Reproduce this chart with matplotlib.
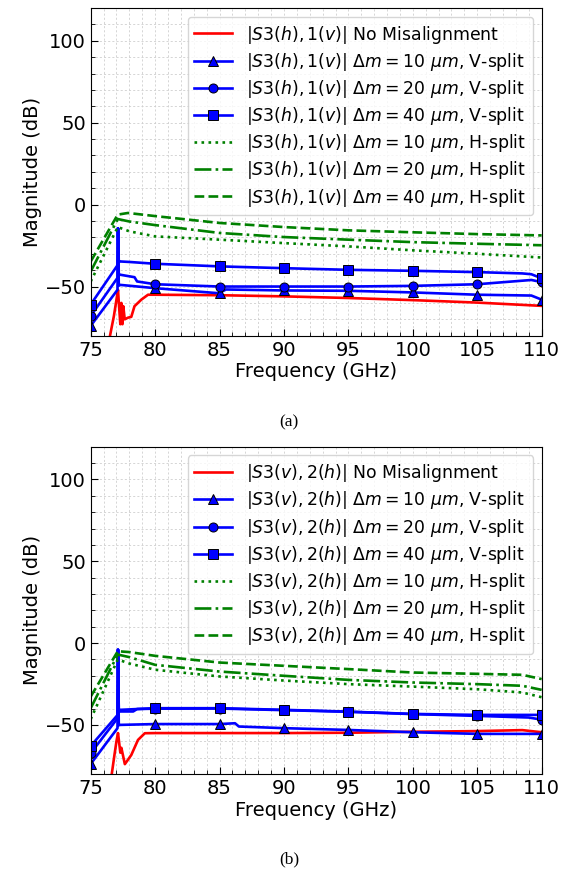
import numpy as np
import matplotlib
matplotlib.use("Agg")
import matplotlib.pyplot as plt
from matplotlib.ticker import MultipleLocator

# ---------------- data: panel (a) |S3(h),1(v)| ----------------
red_a_f = [76.45, 76.8, 77.0, 77.12, 77.2, 77.3, 77.38, 77.46, 77.53, 77.64, 77.9, 78.15, 78.4, 78.93, 79.45, 80, 85, 90, 95, 100, 105, 110]
red_a_v = [-82, -68, -58, -52, -62, -73, -60, -73, -62, -70, -69, -68.5, -62, -58, -55, -55, -55.3, -56, -57, -58.3, -59.8, -61.8]

v10_a_f = [75, 77.08, 77.12, 77.18, 77.3, 80, 84.8, 85, 85.5, 90, 95, 100, 105, 109.2, 110]
v10_a_v = [-74, -52, -14.5, -49.5, -49, -51, -54, -53.8, -51.8, -52.4, -52.6, -53.6, -55, -55.5, -58]
v20_a_f = [75, 77.08, 77.12, 77.18, 77.3, 78.4, 78.6, 80, 85, 90, 95, 100, 105, 109.2, 110]
v20_a_v = [-68, -44.7, -14.5, -43, -42.8, -44.3, -46.9, -48.6, -50, -50, -50, -49.6, -48.6, -46, -47.3]
v40_a_f = [75, 77.08, 77.12, 77.18, 77.3, 78, 80, 85, 90, 95, 100, 105, 108.5, 109.2, 110]
v40_a_v = [-61, -37, -14.5, -35, -34.7, -35, -36.1, -37.7, -38.8, -39.8, -40.4, -41.2, -42, -42.5, -45]

h10_a_f = [75, 77.1, 78, 80, 85, 90, 95, 100, 105, 110]
h10_a_v = [-46.9, -13.7, -16.3, -19.4, -21.4, -23.5, -25.5, -27.9, -30, -32.3]
h20_a_f = [75, 77.1, 78, 80, 85, 90, 95, 100, 105, 110]
h20_a_v = [-40.8, -8.8, -10.3, -12.5, -17.3, -19.8, -21.4, -22.9, -23.9, -24.8]
h40_a_f = [75, 77.1, 77.9, 80, 85, 90, 95, 100, 105, 110]
h40_a_v = [-34.7, -6.1, -5.1, -7, -11.2, -13.7, -15.7, -16.9, -18, -18.8]

# ---------------- data: panel (b) |S3(v),2(h)| ----------------
red_b_f = [76.6, 76.85, 77.0, 77.12, 77.3, 77.38, 77.65, 78.15, 78.67, 79.2, 80, 85, 90, 95, 100, 105, 108.5, 110]
red_b_v = [-82, -68, -60, -55, -67, -64, -74, -68.4, -59.2, -55.1, -55, -55, -55, -54.8, -54.2, -53.8, -53.2, -54.5]

v10_b_f = [75, 77.08, 77.12, 77.18, 77.3, 80, 85, 86.2, 86.5, 90, 95, 100, 105, 110]
v10_b_v = [-73.9, -52, -4, -50.2, -50, -49.5, -49.5, -49, -51, -52, -53.1, -54.5, -55.5, -55.5]
v20_b_f = [75, 77.08, 77.12, 77.18, 77.3, 78.3, 78.6, 80, 85, 90, 95, 100, 105, 109, 110]
v20_b_v = [-67.3, -46, -4, -42, -41.8, -41.8, -40.3, -40.1, -40, -41, -42, -43.4, -44.5, -45.5, -46.8]
v40_b_f = [75, 77.08, 77.12, 77.18, 77.3, 80, 85, 90, 95, 100, 105, 110]
v40_b_v = [-62.9, -44, -4, -41, -40.8, -39.8, -39.8, -40.8, -41.9, -43.3, -43.9, -43.9]

h10_b_f = [75, 77.1, 78, 80, 85, 90, 95, 100, 105, 108.5, 110]
h10_b_v = [-46.5, -10, -12.5, -16.3, -20.4, -22.9, -25.1, -26.6, -28.2, -30.2, -33.1]
h20_b_f = [75, 77.1, 78, 80, 85, 90, 95, 100, 105, 108.5, 110]
h20_b_v = [-39.8, -7, -8.6, -13.3, -17.4, -20, -22.5, -24.1, -25.1, -26.1, -28.6]
h40_b_f = [75, 77.1, 78, 80, 85, 90, 95, 100, 105, 108.5, 110]
h40_b_v = [-32.7, -5, -5.5, -7.8, -11.9, -13.9, -15.9, -18, -18.8, -19.4, -22]

labels_a = r"$|S3(h), 1(v)|$"
labels_b = r"$|S3(v), 2(h)|$"
deltas = ["10", "20", "40"]


def mk_idx(f):
    return [i for i, x in enumerate(f) if abs(x / 5 - round(x / 5)) < 1e-9]


def panel(ax, pre, red, vs, hs):
    lw = 1.9
    ax.plot(red[0], red[1], color="red", lw=lw, label=pre + " No Misalignment")
    for (f, v), m, d in zip(vs, ["^", "o", "s"], deltas):
        ax.plot(f, v, color="blue", lw=lw, marker=m, markersize=6.5,
                markevery=mk_idx(f), mec="k", mew=0.7, mfc="blue",
                label=pre + r" $\Delta m = " + d + r"\ \mu m$, V-split")
    for (f, v), ls, d in zip(hs, [":", "-.", "--"], deltas):
        ax.plot(f, v, color="green", lw=lw, ls=ls,
                label=pre + r" $\Delta m = " + d + r"\ \mu m$, H-split")
    ax.set_xlim(75, 110)
    ax.set_ylim(-80, 120)
    ax.xaxis.set_major_locator(MultipleLocator(5))
    ax.xaxis.set_minor_locator(MultipleLocator(1))
    ax.yaxis.set_major_locator(MultipleLocator(50))
    ax.yaxis.set_minor_locator(MultipleLocator(10))
    ax.tick_params(which="both", direction="in", top=False, right=False)
    ax.tick_params(which="major", labelsize=14, length=5)
    ax.tick_params(which="minor", length=3)
    ax.grid(which="both", color="#cfcfcf", ls=(0, (2.5, 2.5)), lw=0.6)
    ax.set_axisbelow(True)
    ax.set_xlabel("Frequency (GHz)", fontsize=14, labelpad=2)
    ax.set_ylabel("Magnitude (dB)", fontsize=14, labelpad=2)
    ax.legend(loc="upper right", fontsize=12.4, labelspacing=0.3,
              handlelength=2.2, borderpad=0.4, framealpha=0.8)


fig = plt.figure(figsize=(5.69, 8.71), dpi=100)
ax1 = fig.add_axes([0.1594, 0.6146, 0.7926, 0.3762])
ax2 = fig.add_axes([0.1594, 0.1114, 0.7926, 0.3757])

panel(ax1, labels_a, (red_a_f, red_a_v),
      [(v10_a_f, v10_a_v), (v20_a_f, v20_a_v), (v40_a_f, v40_a_v)],
      [(h10_a_f, h10_a_v), (h20_a_f, h20_a_v), (h40_a_f, h40_a_v)])
panel(ax2, labels_b, (red_b_f, red_b_v),
      [(v10_b_f, v10_b_v), (v20_b_f, v20_b_v), (v40_b_f, v40_b_v)],
      [(h10_b_f, h10_b_v), (h20_b_f, h20_b_v), (h40_b_f, h40_b_v)])

fig.text(289 / 569, 1 - 422 / 871, "(a)", family="Liberation Serif", fontsize=12.5,
         ha="center", va="center")
fig.text(289 / 569, 1 - 859 / 871, "(b)", family="Liberation Serif", fontsize=12.5,
         ha="center", va="center")

fig.savefig("out.png", dpi=100)
